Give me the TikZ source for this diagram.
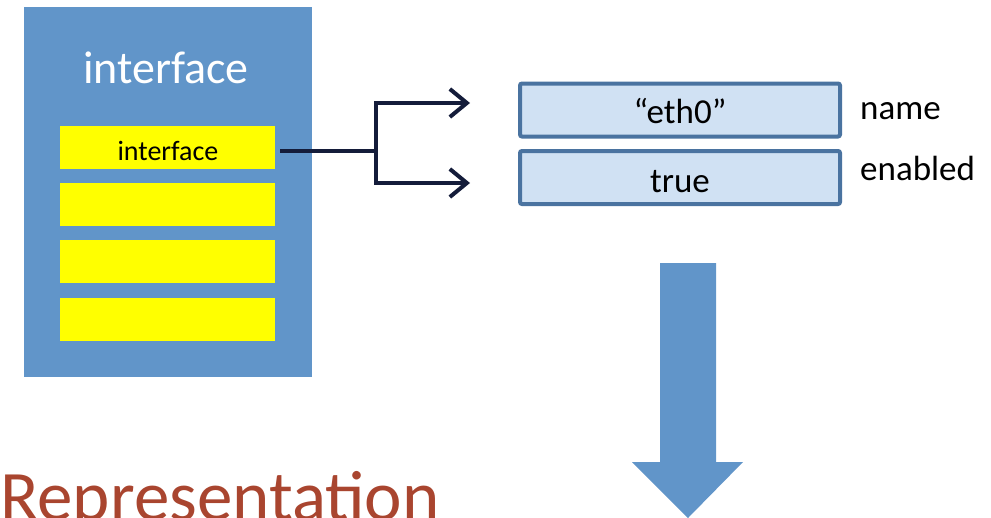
\documentclass[tikz,border=0pt]{standalone}
\usepackage{fontspec}
\setmainfont{Carlito}
\usetikzlibrary{arrows.meta}
\definecolor{panelblue}{HTML}{6195C9}
\definecolor{slotyellow}{HTML}{FFFF00}
\definecolor{linknavy}{HTML}{141C3A}
\definecolor{fieldedge}{HTML}{4A73A0}
\definecolor{fieldfill}{HTML}{D0E1F3}
\definecolor{titlered}{HTML}{A9452F}
\tikzset{
  panel/.style={fill=panelblue, draw=none, minimum width=288pt, minimum height=370pt, inner sep=0pt},
  slot/.style={fill=slotyellow, draw=none, minimum width=215pt, minimum height=43pt, inner sep=0pt, font=\fontsize{28}{30}\selectfont},
  field/.style={fill=fieldfill, draw=fieldedge, line width=4pt, rounded corners=2pt, minimum width=320pt, minimum height=53pt, inner sep=0pt, font=\fontsize{35}{38}\selectfont},
  fieldtext/.style={inner sep=0pt, anchor=base, font=\fontsize{35}{38}\selectfont},
  fieldlabel/.style={anchor=base west, inner sep=0pt, font=\fontsize{35}{38}\selectfont},
  link/.style={draw=linknavy, line width=4pt},
  linkarrow/.style={link, -{Straight Barb[length=17pt, width=28pt, line width=4pt]}},
}
\begin{document}
\begin{tikzpicture}[x=1pt, y=-1pt]
\useasboundingbox (0,0) rectangle (991,517);

% container with its four slots
\node[panel] (panel) at (168,192) {};
\node[anchor=base, text=white, inner sep=0pt, font=\fontsize{46}{50}\selectfont] (ptitle) at (166,83) {interface};
\node[slot] (s1) at (167.5,147.5) {};
\node[anchor=base, inner sep=0pt, font=\fontsize{28}{30}\selectfont] (s1text) at (168,160) {interface};
\node[slot] (s2) at (167.5,204.5) {};
\node[slot] (s3) at (167.5,261.5) {};
\node[slot] (s4) at (167.5,319.5) {};

% leaf fields
\node[field] (f1) at (680,110) {};
\node[field] (f2) at (680,177.5) {};
\node[fieldtext] (f1text) at (680,123) {“eth0”};
\node[fieldtext] (f2text) at (680,192) {true};
\node[fieldlabel] (l1) at (860,119) {name};
\node[fieldlabel] (l2) at (860,180) {enabled};

% branching connector
\coordinate (start) at (280,151);
\coordinate (split) at (376,151);
\coordinate (topcorner) at (376,103);
\coordinate (botcorner) at (376,183);
\coordinate (toptip) at (470,103);
\coordinate (bottip) at (470,183);
\draw[link] (start) -- (split);
\draw[linkarrow, line join=miter] (split) -- (topcorner) -- (toptip);
\draw[linkarrow, line join=miter] (split) -- (botcorner) -- (bottip);

% block arrow pointing down
\fill[panelblue] (660,263) -- (716,263) -- (716,462) -- (743,462) -- (688,518) -- (632,462) -- (660,462) -- cycle;

% caption
\node[anchor=base west, inner sep=0pt, text=titlered, font=\fontsize{71}{75}\selectfont] (caption) at (0,520) {Representation};
\end{tikzpicture}
\end{document}
